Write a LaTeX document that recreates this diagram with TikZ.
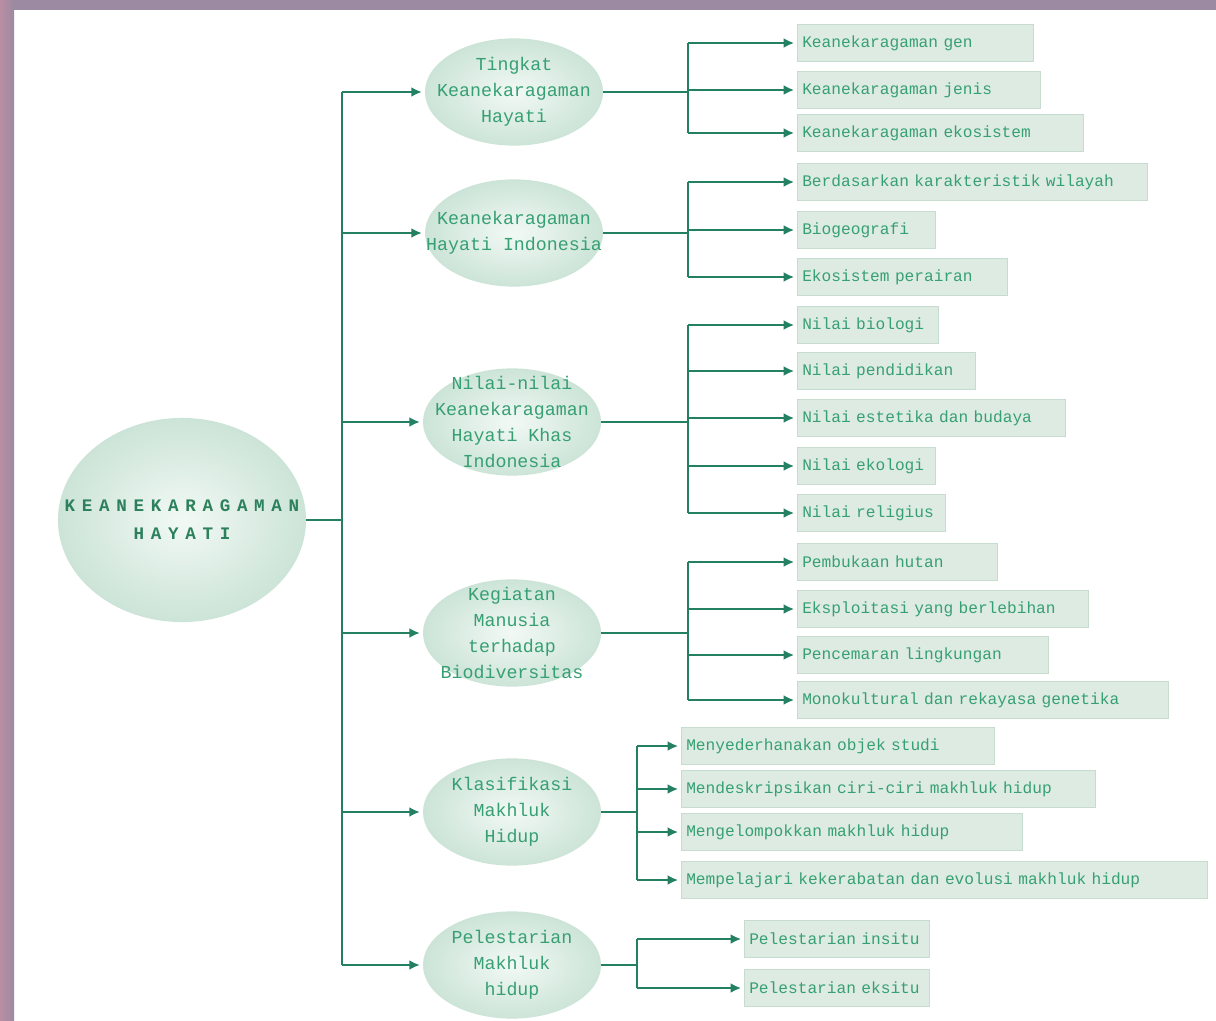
\documentclass[tikz,border=0pt]{standalone}
\usepackage{fontspec}
\setmonofont{Liberation Mono}
\newfontfamily\spacedmono[LetterSpace=38]{Liberation Mono}
\usetikzlibrary{shapes.geometric,arrows.meta,positioning}
\definecolor{framepurple}{RGB}{155,138,162}
\definecolor{framepink}{RGB}{185,142,162}
\definecolor{linkgreen}{RGB}{35,128,98}
\definecolor{textgreen}{RGB}{55,160,115}
\definecolor{boxfill}{RGB}{221,235,226}
\definecolor{boxline}{RGB}{200,219,207}
\definecolor{ovalin}{RGB}{242,249,245}
\definecolor{ovalout}{RGB}{204,228,215}
\tikzset
{
    rootnode/.style  = {ellipse, inner color=ovalin, outer color=ovalout, minimum width=6.2cm, minimum height=5.1cm, inner sep=0pt},
    roottext/.style  = {align=center, text=textgreen!80!black, font=\spacedmono\bfseries\fontsize{12.5}{20}\selectfont},
    topicnode/.style = {ellipse, inner color=ovalin, outer color=ovalout, minimum width=4.45cm, minimum height=2.68cm, inner sep=0pt},
    topictext/.style = {align=center, text=textgreen, font=\ttfamily\fontsize{13}{18.5}\selectfont},
    itembox/.style   = {rectangle, fill=boxfill, draw=boxline, anchor=west, minimum height=0.93cm, inner xsep=0.125cm, text width=#1, align=left, text=textgreen, font=\ttfamily\fontsize{11.5}{14}\selectfont},
    link/.style      = {draw=linkgreen, line width=2pt},
    arrowlink/.style = {link, shorten >=2pt, -{Latex[length=7.5pt,width=7pt]}}
}

\begin{document}
\begin{tikzpicture}[x=0.025cm, y=-0.025cm]
\useasboundingbox (0,0) rectangle (1216,1020);
% frame
\fill[white] (0,0) rectangle (1216,1020);
\fill[framepurple] (0,0) rectangle (1216,10);
\shade[left color=framepink, right color=framepurple] (0,0) rectangle (14,1020);

% root and topics
\node (root)[rootnode] at (182,520) {};
\node (roottxt)[roottext] at (root.center) {KEANEKARAGAMAN\\HAYATI};

\node (t1)[topicnode] at (514,92)  {};
\node (t2)[topicnode] at (514,233) {};
\node (t3)[topicnode] at (512,422) {};
\node (t4)[topicnode] at (512,633) {};
\node (t5)[topicnode] at (512,812) {};
\node (t6)[topicnode] at (512,965) {};
\node (t1txt)[topictext] at (t1) {Tingkat\\Keanekaragaman\\Hayati};
\node (t2txt)[topictext] at (t2) {Keanekaragaman\\Hayati Indonesia};
\node (t3txt)[topictext] at (t3) {Nilai-nilai\\Keanekaragaman\\Hayati Khas\\Indonesia};
\node (t4txt)[topictext] at (t4) {Kegiatan\\Manusia\\terhadap\\Biodiversitas};
\node (t5txt)[topictext] at (t5) {Klasifikasi\\Makhluk\\Hidup};
\node (t6txt)[topictext] at (t6) {Pelestarian\\Makhluk\\hidup};

% items
\node (g1a)[itembox=5.65cm]  at (797,43)  {Keanekaragaman gen};
\node (g1b)[itembox=5.825cm] at (797,90)  {Keanekaragaman jenis};
\node (g1c)[itembox=6.9cm]   at (797,133) {Keanekaragaman ekosistem};

\node (g2a)[itembox=8.5cm]   at (797,182) {Berdasarkan karakteristik wilayah};
\node (g2b)[itembox=3.2cm]   at (797,230) {Biogeografi};
\node (g2c)[itembox=5cm]     at (797,277) {Ekosistem perairan};

\node (g3a)[itembox=3.275cm] at (797,325) {Nilai biologi};
\node (g3b)[itembox=4.2cm]   at (797,371) {Nilai pendidikan};
\node (g3c)[itembox=6.45cm]  at (797,418) {Nilai estetika dan budaya};
\node (g3d)[itembox=3.2cm]   at (797,466) {Nilai ekologi};
\node (g3e)[itembox=3.45cm]  at (797,513) {Nilai religius};

\node (g4a)[itembox=4.75cm]  at (797,562) {Pembukaan hutan};
\node (g4b)[itembox=7.025cm] at (797,609) {Eksploitasi yang berlebihan};
\node (g4c)[itembox=6.025cm] at (797,655) {Pencemaran lingkungan};
\node (g4d)[itembox=9.025cm] at (797,700) {Monokultural dan rekayasa genetika};

\node (g5a)[itembox=7.575cm] at (681,746) {Menyederhanakan objek studi};
\node (g5b)[itembox=10.1cm]  at (681,789) {Mendeskripsikan ciri-ciri makhluk hidup};
\node (g5c)[itembox=8.275cm] at (681,832) {Mengelompokkan makhluk hidup};
\node (g5d)[itembox=12.9cm]  at (681,880) {Mempelajari kekerabatan dan evolusi makhluk hidup};

\node (g6a)[itembox=4.375cm] at (744,939) {Pelestarian insitu};
\node (g6b)[itembox=4.375cm] at (744,988) {Pelestarian eksitu};

% trunk
\coordinate (trunk) at (342,520);
\draw[link] (root.east) -- (trunk);
\draw[link] (trunk |- t1) -- (trunk |- t6);
\foreach \i in {1,...,6}
    \draw[arrowlink] (trunk |- t\i) -- (t\i.west);

% branches
\coordinate (j1) at (688,92);
\coordinate (j2) at (688,233);
\coordinate (j3) at (688,422);
\coordinate (j4) at (688,633);
\coordinate (j5) at (637,812);
\coordinate (j6) at (637,965);
\foreach \i in {1,...,6}
    \draw[link] (t\i.east) -- (j\i);

\draw[link] (j1 |- g1a) -- (j1 |- g1c);
\foreach \n in {a,b,c}
    \draw[arrowlink] (j1 |- g1\n) -- (g1\n.west);

\draw[link] (j2 |- g2a) -- (j2 |- g2c);
\foreach \n in {a,b,c}
    \draw[arrowlink] (j2 |- g2\n) -- (g2\n.west);

\draw[link] (j3 |- g3a) -- (j3 |- g3e);
\foreach \n in {a,b,c,d,e}
    \draw[arrowlink] (j3 |- g3\n) -- (g3\n.west);

\draw[link] (j4 |- g4a) -- (j4 |- g4d);
\foreach \n in {a,b,c,d}
    \draw[arrowlink] (j4 |- g4\n) -- (g4\n.west);

\draw[link] (j5 |- g5a) -- (j5 |- g5d);
\foreach \n in {a,b,c,d}
    \draw[arrowlink] (j5 |- g5\n) -- (g5\n.west);

\draw[link] (j6 |- g6a) -- (j6 |- g6b);
\foreach \n in {a,b}
    \draw[arrowlink] (j6 |- g6\n) -- (g6\n.west);
\end{tikzpicture}
\end{document}
